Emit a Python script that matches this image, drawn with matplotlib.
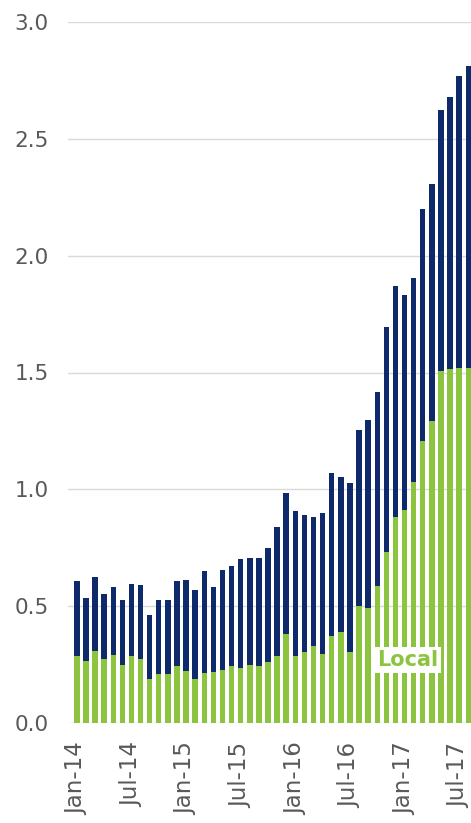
import matplotlib
matplotlib.use("Agg")
import matplotlib.pyplot as plt
import numpy as np

months = ["Jan-14","Feb-14","Mar-14","Apr-14","May-14","Jun-14","Jul-14","Aug-14","Sep-14","Oct-14","Nov-14","Dec-14",
          "Jan-15","Feb-15","Mar-15","Apr-15","May-15","Jun-15","Jul-15","Aug-15","Sep-15","Oct-15","Nov-15","Dec-15",
          "Jan-16","Feb-16","Mar-16","Apr-16","May-16","Jun-16","Jul-16","Aug-16","Sep-16","Oct-16","Nov-16","Dec-16",
          "Jan-17","Feb-17","Mar-17","Apr-17","May-17","Jun-17","Jul-17","Aug-17"]

local = [0.287,0.266,0.306,0.273,0.29,0.247,0.288,0.273,0.187,0.211,0.211,0.244,
         0.223,0.187,0.215,0.218,0.226,0.243,0.236,0.25,0.243,0.262,0.286,0.382,
         0.286,0.305,0.329,0.296,0.372,0.389,0.304,0.50,0.493,0.585,0.733,0.881,
         0.911,1.033,1.205,1.291,1.507,1.515,1.52,1.52]

total = [0.607,0.537,0.626,0.554,0.58,0.528,0.597,0.59,0.462,0.528,0.528,0.606,
         0.613,0.57,0.652,0.58,0.656,0.674,0.70,0.708,0.708,0.751,0.839,0.986,
         0.908,0.889,0.881,0.90,1.07,1.053,1.025,1.255,1.298,1.418,1.694,1.872,
         1.83,1.906,2.199,2.305,2.622,2.681,2.767,2.81]

yticks = [0.0, 0.5, 1.0, 1.5, 2.0, 2.5, 3.0]
ytick_labels = ["0.0", "0.5", "1.0", "1.5", "2.0", "2.5", "3.0"]

GREEN = "#8dc43f"
NAVY = "#0f2a6b"
GRAY = "#595959"

fig = plt.figure(figsize=(4.71, 8.23), dpi=100)
ax = fig.add_axes([68/471, 100/823, 403/471, 701/823])

x = np.arange(len(months))
other = np.array(total) - np.array(local)
ax.bar(x, local, width=0.6, color=GREEN, zorder=2)
ax.bar(x, other, bottom=local, width=0.6, color=NAVY, zorder=2)

ax.set_ylim(0, 3.0)
ax.set_xlim(-0.97, 43.3)
ax.set_yticks(yticks)
ax.set_yticklabels(ytick_labels)
ax.yaxis.grid(True, color="#dadada", linewidth=1, zorder=0)
ax.set_axisbelow(True)

tick_idx = list(range(0, len(months), 6))
ax.set_xticks(tick_idx)
ax.set_xticklabels([months[i] for i in tick_idx], rotation=90)

for s in ax.spines.values():
    s.set_visible(False)
ax.tick_params(axis="y", length=0, pad=14, labelsize=15.5, labelcolor=GRAY)
ax.tick_params(axis="x", length=0, pad=14, labelsize=16.5, labelcolor=GRAY)

ax.text(36.3, 0.27, "Local", color=GREEN, fontsize=15, fontweight="bold",
        ha="center", va="center", zorder=3,
        bbox=dict(facecolor="white", edgecolor="none", pad=2))

fig.savefig("out.png", dpi=100)
